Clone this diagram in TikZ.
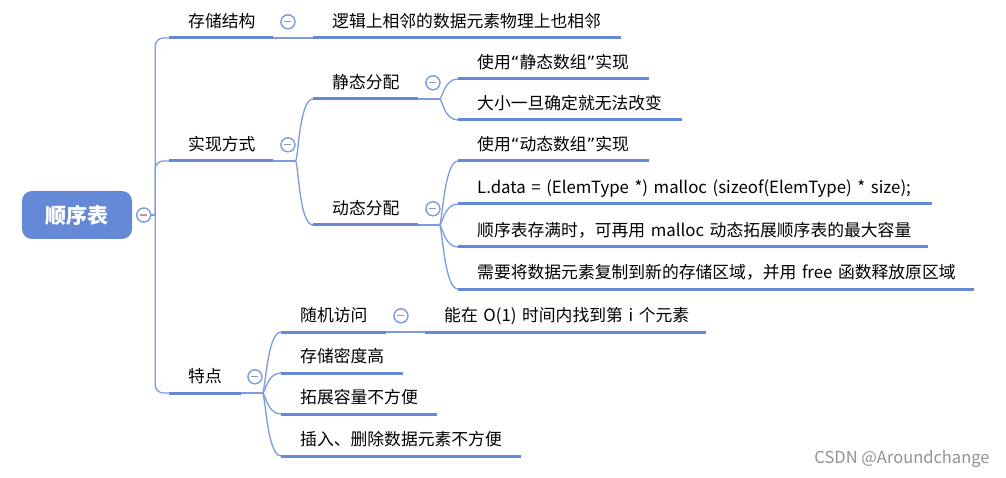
\documentclass[tikz,border=0pt]{standalone}
\usepackage{fontspec}
\setmainfont{Noto Sans CJK SC}
\newfontfamily\quotefont{DejaVu Sans}
\usepackage{tikz}
\usetikzlibrary{positioning,calc}
\definecolor{barblue}{RGB}{101,137,214}
\definecolor{linkblue}{RGB}{125,156,222}
\definecolor{foldgray}{RGB}{150,152,165}
\definecolor{foldpink}{RGB}{196,140,158}
\newcommand{\openq}{{\quotefont “}}
\newcommand{\closeq}{{\quotefont ”}}
\tikzstyle{topic} = [anchor=south west, inner xsep=19pt, inner ysep=0pt, text height=22pt, text depth=10pt, align=left, font=\fontsize{16.8}{18}\selectfont, execute at begin node=\hbox\bgroup, execute at end node=\egroup]
\tikzstyle{root}  = [rectangle, rounded corners=10pt, fill=barblue, text=white, minimum width=110pt, minimum height=48pt, font=\fontsize{21}{24}\selectfont\bfseries]
\tikzstyle{bar}   = [draw=barblue, line width=3pt]
\tikzstyle{link}  = [draw=linkblue, line width=1.3pt]

\begin{document}
\begin{tikzpicture}[x=1pt, y=-1pt,
			fold/.style={
					circle, draw=linkblue, line width=1.1pt, fill=white,
					minimum size=14pt, inner sep=0pt,
					path picture={\draw[#1, line width=1.1pt]
							([xshift=-3.5pt]path picture bounding box.center) --
							([xshift=3.5pt]path picture bounding box.center);}
				},
			fold/.default=foldgray,
			forkline/.style={out=0, in=180, out distance=3pt, in distance=14pt}
		]
		\fill[white] (0,0) rectangle (1006,478);
		\useasboundingbox (0,0) rectangle (1006,478);

		% root
		\node[root] (root) at (77,215) {顺序表};
		\node[fold=foldpink, right=4pt of root] (root-fold) {};

		% first level
		\node[topic, text width=66pt] (store) at (169,38) {存储结构};
		\node[topic, text width=66pt] (impl) at (169,161) {实现方式};
		\node[topic, text width=34pt] (feat) at (169,393) {特点};
		\node[fold, right=7pt of store] (store-fold) {};
		\node[fold, right=7pt of impl] (impl-fold) {};
		\node[fold, right=6pt of feat] (feat-fold) {};

		% storage
		\node[topic, text width=270pt] (adjacent) at (313,38) {逻辑上相邻的数据元素物理上也相邻};

		% implementation
		\node[topic, text width=67pt] (static) at (313,99) {静态分配};
		\node[topic, text width=67pt] (dynamic) at (313,225) {动态分配};
		\node[fold, right=7pt of static] (static-fold) {};
		\node[fold, right=7pt of dynamic] (dynamic-fold) {};
		\node[topic, text width=153pt] (staticarr) at (458,79) {使用\openq 静态数组\closeq 实现};
		\node[topic, text width=186pt] (fixedsize) at (458,120) {大小一旦确定就无法改变};
		\node[topic, text width=153pt] (dynarr) at (458,161) {使用\openq 动态数组\closeq 实现};
		\node[topic, text width=436pt] (malloc) at (458,204) {L.data = (ElemType *) malloc (sizeof(ElemType) * size);};
		\node[topic, text width=432pt] (extend) at (458,247) {顺序表存满时，可再用 malloc 动态拓展顺序表的最大容量};
		\node[topic, text width=478pt] (copy) at (458,289) {需要将数据元素复制到新的存储区域，并用 free 函数释放原区域};

		% features
		\node[topic, text width=67pt] (random) at (281,332) {随机访问};
		\node[fold, right=7pt of random] (random-fold) {};
		\node[topic, text width=243pt] (o1) at (425,332) {能在 O(1) 时间内找到第 i 个元素};
		\node[topic, text width=84pt] (density) at (281,373) {存储密度高};
		\node[topic, text width=118pt] (expand) at (281,414) {拓展容量不方便};
		\node[topic, text width=202pt] (insert) at (281,456) {插入、删除数据元素不方便};

		% connectors
		\coordinate (spine) at ($(root-fold.east)+(4,0)$);
		\draw[link] (root-fold) -- (spine);
		\draw[link, rounded corners=8pt] (spine) |- (store.south west);
		\draw[link, rounded corners=8pt] (spine) |- (impl.south west);
		\draw[link, rounded corners=8pt] (spine) |- (feat.south west);
		\draw[link] (store.south east) -- (adjacent.south west);
		\draw[link] (random.south east) -- (o1.south west);

		\draw[link] (impl.south east) -- ++(22,0) coordinate (impl-j);
		\draw[link] (impl-j) to[forkline] (static.south west);
		\draw[link] (impl-j) to[forkline] (dynamic.south west);

		\draw[link] (static.south east) -- ++(21,0) coordinate (static-j);
		\foreach \n in {staticarr,fixedsize}
		\draw[link] (static-j) to[forkline] (\n.south west);

		\draw[link] (dynamic.south east) -- ++(21,0) coordinate (dynamic-j);
		\foreach \n in {dynarr,malloc,extend,copy}
		\draw[link] (dynamic-j) to[forkline] (\n.south west);

		\draw[link] (feat.south east) -- ++(21,0) coordinate (feat-j);
		\foreach \n in {random,density,expand,insert}
		\draw[link] (feat-j) to[forkline] (\n.south west);

		% bars under every topic
		\foreach \n in {store,impl,feat,adjacent,static,dynamic,staticarr,fixedsize,dynarr,malloc,extend,copy,random,o1,density,expand,insert}
		\draw[bar] (\n.south west) -- (\n.south east);

		% fold circles on top
		\foreach \n in {root-fold,store-fold,impl-fold,feat-fold,static-fold,dynamic-fold,random-fold}
		\node[circle, draw=linkblue, line width=1.1pt, minimum size=14pt, inner sep=0pt] at (\n) {};

		\node[text=gray!85, font=\fontsize{16.5}{18}\selectfont] (csdn) at (902,459) {CSDN @Aroundchange};
	\end{tikzpicture}
\end{document}
